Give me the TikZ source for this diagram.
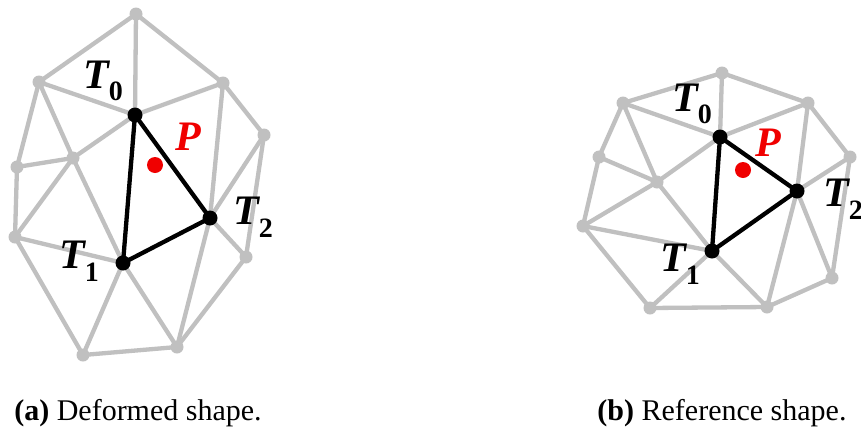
\documentclass[tikz,border=0pt]{standalone}
\usepackage{fontspec}
\setmainfont{Liberation Serif}
\definecolor{meshgray}{RGB}{192,192,192}
\definecolor{pred}{RGB}{240,0,0}
\newcommand{\tlab}[1]{{\bfseries\itshape T}\raisebox{-0.3em}{\fontsize{28}{28}\selectfont\bfseries\upshape #1}}
\tikzset{
  gedge/.style={draw=meshgray,line width=4.3pt,line cap=round},
  bedge/.style={draw=black,line width=4.3pt,line cap=round,line join=round},
  gdot/.style={circle,fill=meshgray,inner sep=0pt,minimum size=13pt},
  bdot/.style={circle,fill=black,inner sep=0pt,minimum size=15pt},
  pdot/.style={circle,fill=pred,inner sep=0pt,minimum size=16pt},
  tlabel/.style={font=\fontsize{42}{42}\selectfont,inner sep=0pt},
  plabel/.style={font=\fontsize{42}{42}\selectfont\bfseries\itshape,text=pred,inner sep=0pt},
  captext/.style={font=\fontsize{30}{30}\selectfont,anchor=base,inner sep=0pt}
}
\begin{document}
\begin{tikzpicture}[x=1pt,y=-1pt]
\useasboundingbox[fill=white] (0,0) rectangle (861,426);
% ---------- (a) deformed ----------
\coordinate (aA) at (136,14);
\coordinate (aB) at (39,82);
\coordinate (aC) at (223,83);
\coordinate (aT0) at (135,115);
\coordinate (aD) at (264,135);
\coordinate (aE) at (17,167);
\coordinate (aF) at (73,158);
\coordinate (aT2) at (210,218);
\coordinate (aG) at (15,237);
\coordinate (aT1) at (123,263);
\coordinate (aH) at (246,257);
\coordinate (aI) at (83,355);
\coordinate (aJ) at (177,347);
\foreach \u/\v in {aA/aB,aA/aT0,aA/aC,aB/aT0,aB/aF,aB/aE,aC/aT0,aC/aD,aC/aT2,aD/aT2,aD/aH,aT2/aH,aH/aJ,aT0/aF,aE/aF,aE/aG,aF/aG,aF/aT1,aG/aT1,aG/aI,aT1/aI,aT1/aJ,aI/aJ,aT2/aJ}
  \draw[gedge] (\u) -- (\v);
\draw[bedge] (aT0) -- (aT1) -- (aT2) -- cycle;
\foreach \p in {aA,aB,aC,aD,aE,aF,aG,aH,aI,aJ}
  \node[gdot] (n\p) at (\p) {};
\foreach \p in {aT0,aT1,aT2}
  \node[bdot] (n\p) at (\p) {};
\node[pdot] (aP) at (155,165) {};
\node[plabel] (aPl) at (188,137) {P};
\node[tlabel] (aL0) at (103,81) {\tlab{0}};
\node[tlabel] (aL1) at (79,261) {\tlab{1}};
\node[tlabel] (aL2) at (253,217) {\tlab{2}};
% ---------- (b) reference ----------
\coordinate (bA) at (722,73);
\coordinate (bB) at (623,103);
\coordinate (bC) at (808,103);
\coordinate (bT0) at (720,137);
\coordinate (bD) at (850,157);
\coordinate (bE) at (599,157);
\coordinate (bF) at (657,182);
\coordinate (bT2) at (797,191);
\coordinate (bG) at (583,226);
\coordinate (bT1) at (712,251);
\coordinate (bH) at (832,278);
\coordinate (bI) at (650,308);
\coordinate (bJ) at (767,307);
\foreach \u/\v in {bA/bB,bA/bT0,bA/bC,bB/bT0,bB/bF,bB/bE,bC/bT0,bC/bD,bC/bT2,bD/bT2,bD/bH,bT2/bH,bH/bJ,bT0/bF,bE/bF,bE/bG,bF/bG,bF/bT1,bG/bT1,bG/bI,bT1/bI,bT1/bJ,bI/bJ,bT2/bJ}
  \draw[gedge] (\u) -- (\v);
\draw[bedge] (bT0) -- (bT1) -- (bT2) -- cycle;
\foreach \p in {bA,bB,bC,bD,bE,bF,bG,bH,bI,bJ}
  \node[gdot] (n\p) at (\p) {};
\foreach \p in {bT0,bT1,bT2}
  \node[bdot] (n\p) at (\p) {};
\node[pdot] (bP) at (743,170) {};
\node[plabel] (bPl) at (768,143) {P};
\node[tlabel] (bL0) at (692,104) {\tlab{0}};
\node[tlabel] (bL1) at (680,264) {\tlab{1}};
\node[tlabel] (bL2) at (843,199) {\tlab{2}};
% ---------- captions ----------
\node[captext] (capa) at (138,420) {\textbf{(a)} Deformed shape.};
\node[captext] (capb) at (722,420) {\textbf{(b)} Reference shape.};
\end{tikzpicture}
\end{document}
